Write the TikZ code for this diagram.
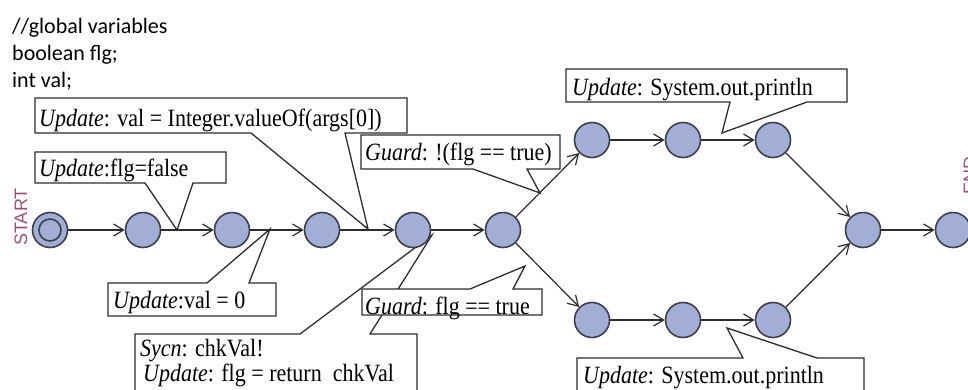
\documentclass[tikz,border=0pt]{standalone}
\usepackage{fontspec}
\setmainfont{Liberation Serif}
\newfontfamily\notefont{Carlito}
\newfontfamily\labelfont{Liberation Sans}
\usetikzlibrary{arrows.meta}
\definecolor{statefill}{RGB}{163,174,214}
\definecolor{statedraw}{RGB}{60,64,75}
\definecolor{linegray}{RGB}{45,45,45}
\definecolor{plum}{RGB}{158,78,122}
\newcommand{\talltext}[1]{\scalebox{1}[1.13]{#1}}

\begin{document}
\begin{tikzpicture}[x=1pt,y=-1pt,
  state/.style={circle, draw=statedraw, fill=statefill, line width=1.6pt,
    minimum size=35pt, inner sep=0pt},
  trans/.style={draw=linegray, line width=1.2pt,
    -{Straight Barb[length=10pt,width=12pt,line width=1.2pt]}},
  callout/.style={draw=linegray, fill=white, line width=1.3pt, line join=miter},
  lbl/.style={anchor=base west, inner sep=0pt, font=\fontsize{22}{26}\selectfont},
  note/.style={anchor=base west, inner sep=0pt, font=\notefont\fontsize{22}{26}\selectfont},
  endlabel/.style={rotate=90, inner sep=0pt, text=plum, font=\labelfont\fontsize{18}{20}\selectfont}]
\useasboundingbox (0,0) rectangle (968,389);
\clip (0,0) rectangle (968,389);

% declarations
\node[note] (g1) at (12,33) {//global variables};
\node[note] (g2) at (12,60) {boolean flg;};
\node[note] (g3) at (12,87) {int val;};

% start / end markers
\node[endlabel] (startlbl) at (21,217) {START};
\node[endlabel] (endlbl) at (970,175) {END};

% tips of the callout pointers
\coordinate (t1) at (177,230);
\coordinate (t2) at (368,229);
\coordinate (t3) at (270,229);
\coordinate (t4) at (432,235);
\coordinate (t5) at (525,266);
\coordinate (t6) at (540,193);
\coordinate (t7) at (722,133);
\coordinate (t8) at (727,328);

% callouts
\draw[callout] (35,98) -- (407,98) -- (407,133) -- (345,133) -- (t2) -- (251,133) -- (35,133) -- cycle;
\node[lbl] (c2) at (39,126) {\talltext{\textit{Update}: val = Integer.valueOf(args[0])}};

\draw[callout] (35,152) -- (226,152) -- (226,183) -- (193,183) -- (t1) -- (145,183) -- (35,183) -- cycle;
\node[lbl] (c1) at (39,176) {\talltext{\textit{Update}:flg=false}};

\draw[callout] (108,283) -- (207,283) -- (t3) -- (249,283) -- (276,283) -- (276,316) -- (108,316) -- cycle;
\node[lbl] (c3) at (113,308) {\talltext{\textit{Update}:val = 0}};

\draw[callout] (135,400) -- (135,334) -- (300,334) -- (t4) -- (370,334) -- (417,334) -- (417,400);
\node[lbl] (c4a) at (140,356) {\talltext{\textit{Sycn}: chkVal!}};
\node[lbl] (c4b) at (143,381) {\talltext{\textit{Update}: flg = return\hspace{0.5em}chkVal}};

\draw[callout] (362,289) -- (470,289) -- (t5) -- (513,289) -- (542,289) -- (542,315) -- (362,315) -- cycle;
\node[lbl] (c5) at (365,314) {\talltext{\textit{Guard}: flg == true}};

\draw[callout] (361,135) -- (560,135) -- (560,169) -- (527,169) -- (t6) -- (473,169) -- (361,169) -- cycle;
\node[lbl] (c6) at (365,160) {\talltext{\textit{Guard}: !(flg == true)}};

\draw[callout] (566,69) -- (847,69) -- (847,102) -- (807,102) -- (t7) -- (730,102) -- (566,102) -- cycle;
\node[lbl] (c7) at (572,95) {\talltext{\textit{Update}: System.out.println}};

\draw[callout] (577,400) -- (577,358) -- (743,358) -- (t8) -- (817,358) -- (864,358) -- (864,400);
\node[lbl] (c8) at (583,383) {\talltext{\textit{Update}: System.out.println}};

% states
\node[state] (s0) at (50,230) {};
\draw[statedraw, line width=1.6pt] (s0.center) circle (11pt);
\node[state] (n1) at (143,230) {};
\node[state] (n2) at (232,230) {};
\node[state] (n3) at (322,230) {};
\node[state] (n4) at (413,230) {};
\node[state] (n5) at (503,230) {};
\node[state] (u1) at (592,140) {};
\node[state] (u2) at (683,140) {};
\node[state] (u3) at (773,140) {};
\node[state] (l1) at (592,320) {};
\node[state] (l2) at (683,320) {};
\node[state] (l3) at (773,320) {};
\node[state] (m) at (863,230) {};
\node[state] (e) at (953,230) {};

% transitions
\draw[trans] (s0) -- (n1);
\draw[trans] (n1) -- (n2);
\draw[trans] (n2) -- (n3);
\draw[trans] (n3) -- (n4);
\draw[trans] (n4) -- (n5);
\draw[trans] (n5) -- (u1);
\draw[trans] (u1) -- (u2);
\draw[trans] (u2) -- (u3);
\draw[trans] (u3) -- (m);
\draw[trans] (n5) -- (l1);
\draw[trans] (l1) -- (l2);
\draw[trans] (l2) -- (l3);
\draw[trans] (l3) -- (m);
\draw[trans] (m) -- (e);
\end{tikzpicture}
\end{document}
